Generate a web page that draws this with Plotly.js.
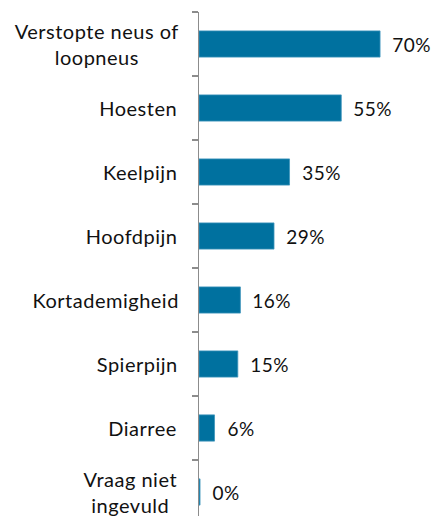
<!DOCTYPE html>
<html><head><meta charset="utf-8">
<script src="https://cdn.plot.ly/plotly-3.0.1.min.js"></script>
<style>html,body{margin:0;padding:0;background:#fff}#chart{width:438px;height:516px}
#chart .annotation text{letter-spacing:0.5px}</style>
</head><body><div id="chart"></div>
<script>
const categories = ["Verstopte neus of<br>loopneus","Hoesten","Keelpijn","Hoofdpijn","Kortademigheid","Spierpijn","Diarree","Vraag niet<br>ingevuld"];
const values = [70, 55, 35, 29, 16, 15, 6, 0.4];
const valueLabels = ["70%","55%","35%","29%","16%","15%","6%","0%"];
const FONT = "Lato, 'Open Sans', sans-serif";
const ids = categories.map((c,i)=>"c"+i);

const annotations = [];
categories.forEach((c,i)=>{
  annotations.push({xref:'paper', x:0, xanchor:'right', xshift:-22, yref:'y', y:ids[i], yanchor:'middle',
    text:c, showarrow:false, align:'center', font:{family:FONT, size:20, color:'#111'}});
  annotations.push({xref:'x', x:values[i], xanchor:'left', xshift:11, yref:'y', y:ids[i], yanchor:'middle',
    text:valueLabels[i], showarrow:false, font:{family:FONT, size:19, color:'#111'}});
});

Plotly.newPlot('chart', [{
  type:'bar', orientation:'h', y:ids, x:values,
  marker:{color:'#00719f', line:{color:'#3d94bb', width:0.8}},
  hoverinfo:'none'
}], {
  width:438, height:516,
  margin:{l:199, r:0, t:12, b:0},
  paper_bgcolor:'#fff', plot_bgcolor:'#fff',
  bargap:0.59,
  showlegend:false,
  xaxis:{range:[0, 92.4], visible:false, fixedrange:true},
  yaxis:{type:'category', range:[7.375, -0.5], showticklabels:false, showgrid:false, zeroline:false,
    showline:true, linecolor:'#8c8c8c', linewidth:1.5, ticks:'outside', tickson:'boundaries',
    ticklen:6, tickcolor:'#8c8c8c', tickwidth:1.5},
  annotations:annotations
}, {staticPlot:true});
</script></body></html>
